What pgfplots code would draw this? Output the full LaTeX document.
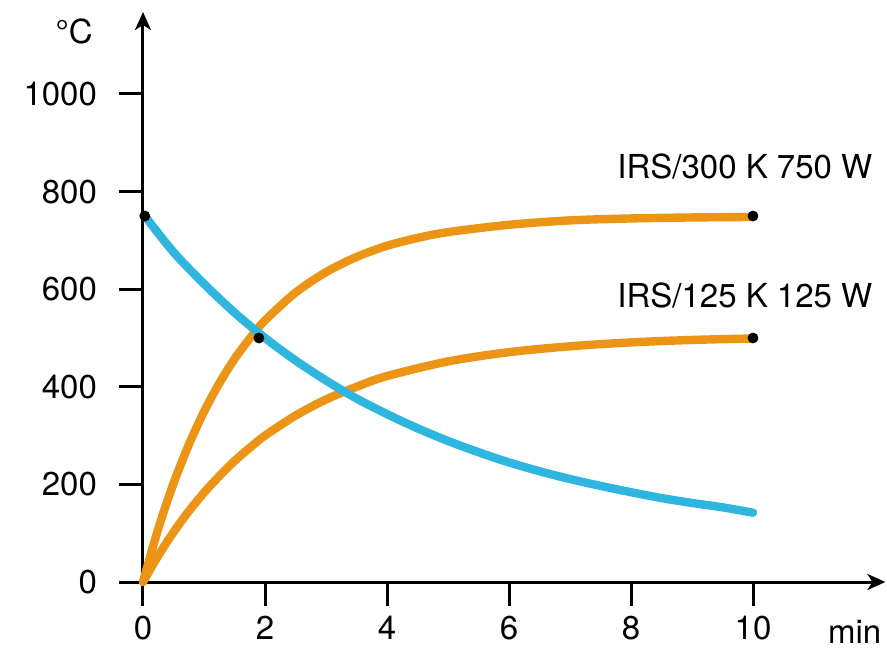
\documentclass[border=0pt]{standalone}
\usepackage{fontspec}
\setmainfont{TeX Gyre Heros}
\usepackage{pgfplots}
\pgfplotsset{compat=1.18}
\usetikzlibrary{arrows.meta}
\definecolor{heatorange}{RGB}{235,148,22}
\definecolor{coolblue}{RGB}{46,182,222}
\newcommand{\chartfont}{\fontsize{16.5}{20}\selectfont}
\begin{document}
\begin{tikzpicture}
\useasboundingbox (-71.5pt,-33pt) rectangle (372pt,291pt);
\begin{axis}[
  at={(0,0)}, anchor=origin,
  x=30.5pt, y=0.244pt,
  xmin=0, xmax=12.17, ymin=0, ymax=1168,
  axis lines=left,
  axis line style={line width=1.5pt, -{Stealth[length=9pt,width=8pt,inset=2.5pt]}},
  xtick={0,2,4,6,8,10}, ytick={0,200,400,600,800,1000},
  tick align=outside, major tick length=12pt,
  tick style={line width=1.5pt, black},
  /pgf/number format/assume math mode=true,
  /pgf/number format/1000 sep={},
  ticklabel style={font=\chartfont},
  xticklabel style={yshift=-1.5pt},
  yticklabel style={xshift=-7.5pt},
  clip=false,
  scaled ticks=false,
]
\addplot[heatorange, line width=4.2pt, smooth, line cap=round] coordinates {
 (0,0) (0.25,109) (0.5,202) (0.75,281) (1,349) (1.25,407) (1.5,457) (1.75,499)
 (2,536) (2.5,593) (3,635) (3.5,666) (4,689) (4.5,705) (5,717) (6,732) (7,741)
 (8,745) (9,747) (10,748)};
\addplot[heatorange, line width=4.2pt, smooth, line cap=round] coordinates {
 (0,0) (0.25,54) (0.5,102) (0.75,145) (1,183) (1.25,217) (1.5,248) (1.75,275)
 (2,300) (2.5,341) (3,374) (3.5,400) (4,422) (5,452) (6,471) (7,483) (8,491)
 (9,496) (10,499)};
\addplot[coolblue, line width=4.2pt, smooth, line cap=round] coordinates {
 (0.03,750) (0.5,676) (1,611) (1.5,552) (2,500) (2.5,454) (3,413) (3.5,376)
 (4,344) (4.5,315) (5,289) (5.5,266) (6,245) (6.5,227) (7,211) (7.5,197)
 (8,184) (8.5,172) (9,162) (9.5,153) (10,142)};
\addplot[only marks, mark=*, mark size=2.5pt, black] coordinates {
 (0.03,750) (1.9,500) (10,750) (10,500)};
\node[anchor=west, inner sep=0pt, font=\chartfont] at (axis cs:7.77,852) {IRS/300 K 750 W};
\node[anchor=west, inner sep=0pt, font=\chartfont] at (axis cs:7.77,588) {IRS/125 K 125 W};
\node[anchor=east, inner sep=0pt, font=\chartfont] at (axis cs:-0.82,1129) {°C};
\node[anchor=base east, inner sep=0pt, font=\chartfont] at (axis cs:12.11,-125) {min};
\end{axis}
\end{tikzpicture}
\end{document}
